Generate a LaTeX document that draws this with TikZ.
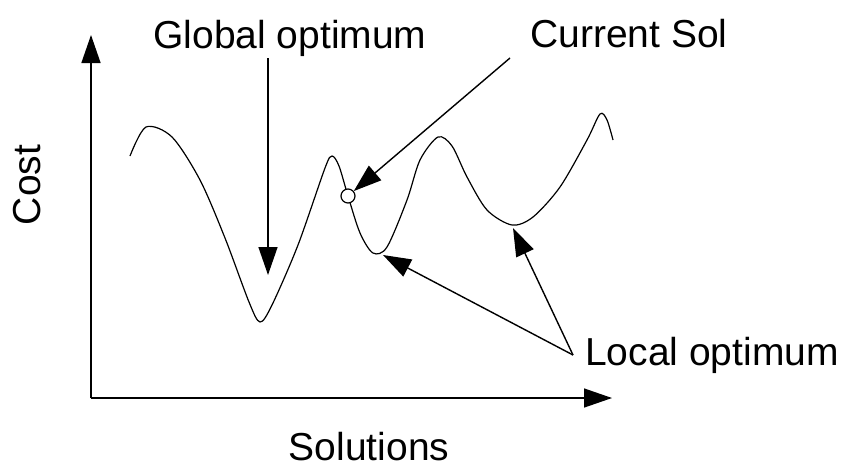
\documentclass[tikz,border=0pt]{standalone}
\usepackage{fontspec}
\setmainfont{Liberation Sans}
\usetikzlibrary{arrows.meta,positioning}

\begin{document}
\begin{tikzpicture}[x=0.5pt,y=-0.5pt,
	lbl/.style={anchor=base,inner sep=0pt,font=\fontsize{19.5}{23}\selectfont},
	tip/.style={-{Triangle[length=14pt,width=9.5pt]},line width=0.7pt}]
	\useasboundingbox (0,0) rectangle (844,466);
	% axes
	\coordinate (o) at (91,398);
	\coordinate (ytop) at (91,35);
	\coordinate (xend) at (612,398);
	\draw[tip] (o) -- (ytop);
	\draw[tip] (o) -- (xend);
	\node[lbl,rotate=90] (cost) at (40,185) {Cost};
	\node[lbl] (sols) at (369,460) {Solutions};
	% cost curve
	\draw[line width=0.6pt] plot[smooth,tension=0.5] coordinates {(130,156) (146,127) (172,137) (200,180) (225,238) (249,302) (260,322) (272,305) (298,245) (325,168) (332,156) (339,166) (348,196) (360,233) (373,253) (387,247) (407,200) (420,160) (438,137) (452,146) (467,177) (487,210) (512,225) (533,217) (560,187) (587,140) (600,114) (607,120) (613,140)};
	\coordinate (gmin) at (268,275);
	\coordinate (lmin1) at (383,255);
	\coordinate (lmin2) at (513,228);
	\node[circle,draw,fill=white,inner sep=0pt,minimum size=7pt,line width=0.6pt] (cur) at (348,196) {};
	% labels
	\node[lbl] (glob) at (290,48) {Global optimum};
	\node[lbl] (csol) at (629,47) {Current Sol};
	\node[lbl] (loc) at (712,365) {Local optimum};
	\coordinate (gtail) at (268,58);
	\coordinate (ctail) at (510,58);
	\coordinate (ltail) at (573,355);
	\draw[tip] (gtail) -- (gmin);
	\draw[tip] (ctail) -- (cur);
	\draw[tip] (ltail) -- (lmin1);
	\draw[tip] (ltail) -- (lmin2);
\end{tikzpicture}
\end{document}
